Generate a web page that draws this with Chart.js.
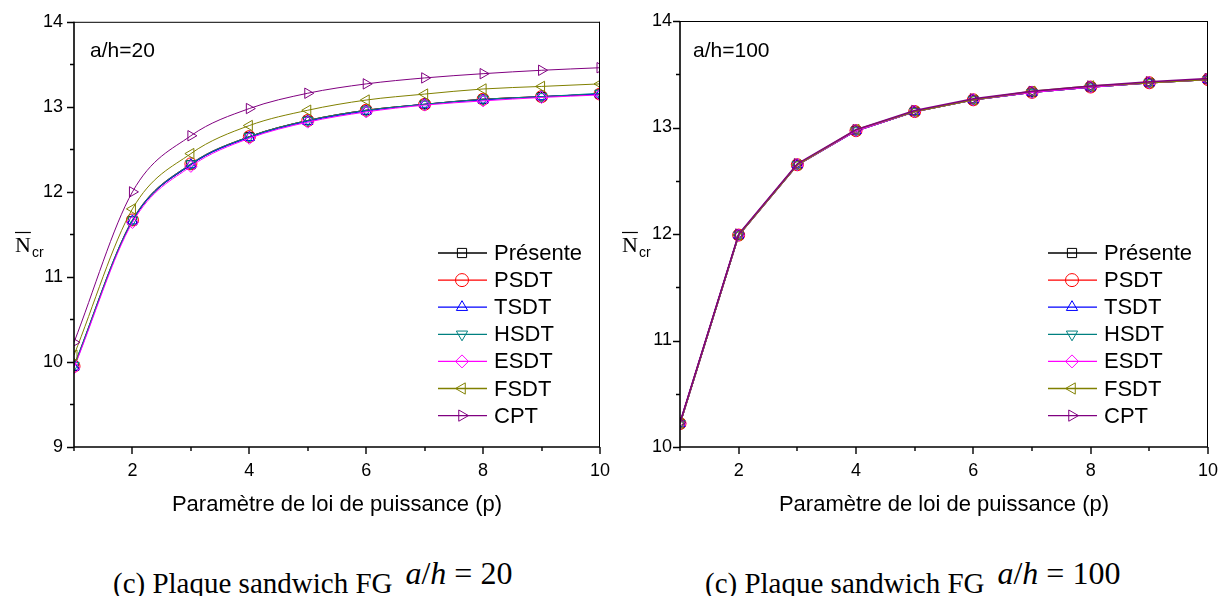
<!DOCTYPE html>
<html>
<head>
<meta charset="utf-8">
<script src="https://cdn.jsdelivr.net/npm/chart.js@4.4.1/dist/chart.umd.min.js"></script>
<style>
  body { margin: 0; background: #fff; width: 1222px; height: 596px; overflow: hidden; position: relative; }
  .panel { position: absolute; top: 0; }
  #leftPanel { left: 0; }
  #rightPanel { left: 610px; }
  .caption { position: absolute; top: 568px; font-family: 'Liberation Serif', 'Times New Roman', serif; font-size: 29px; line-height: 29px; white-space: nowrap; color: #000; }
  .caption .eq { font-size: 32px; position: relative; top: -9px; margin-left: 13px; }
</style>
</head>
<body>
<div class="panel" id="leftPanel"><canvas id="chart20" width="610" height="530"></canvas></div>
<div class="panel" id="rightPanel"><canvas id="chart100" width="612" height="530"></canvas></div>
<div class="caption" style="left:113px;">(c) Plaque sandwich FG<span class="eq"><i>a</i>/<i>h</i> = 20</span></div>
<div class="caption" style="left:705px;">(c) Plaque sandwich FG<span class="eq"><i>a</i>/<i>h</i> = 100</span></div>
<script>
// power-law index p
const pValues = [1, 2, 3, 4, 5, 6, 7, 8, 9, 10];

const seriesNames = ['Présente', 'PSDT', 'TSDT', 'HSDT', 'ESDT', 'FSDT', 'CPT'];

// a/h = 20
const presente20 = [9.95, 11.66, 12.32, 12.65, 12.84, 12.96, 13.03, 13.09, 13.12, 13.15];
const psdt20     = [9.95, 11.67, 12.33, 12.65, 12.84, 12.96, 13.03, 13.09, 13.12, 13.15];
const tsdt20     = [9.94, 11.66, 12.32, 12.64, 12.83, 12.95, 13.03, 13.08, 13.12, 13.15];
const hsdt20     = [9.96, 11.67, 12.33, 12.65, 12.84, 12.96, 13.03, 13.09, 13.12, 13.16];
const esdt20     = [9.93, 11.64, 12.30, 12.63, 12.82, 12.94, 13.02, 13.07, 13.11, 13.14];
const fsdt20     = [10.08, 11.80, 12.45, 12.78, 12.96, 13.08, 13.15, 13.21, 13.24, 13.27];
const cpt20      = [10.23, 12.00, 12.66, 12.98, 13.16, 13.27, 13.34, 13.39, 13.43, 13.46];

// a/h = 100
const presente100 = [10.22, 11.99, 12.65, 12.97, 13.15, 13.26, 13.33, 13.38, 13.42, 13.45];
const psdt100     = [10.22, 11.99, 12.65, 12.97, 13.15, 13.26, 13.33, 13.38, 13.42, 13.45];
const tsdt100     = [10.22, 11.99, 12.65, 12.97, 13.15, 13.26, 13.33, 13.38, 13.42, 13.45];
const hsdt100     = [10.22, 11.99, 12.65, 12.97, 13.15, 13.26, 13.33, 13.38, 13.42, 13.45];
const esdt100     = [10.22, 11.99, 12.65, 12.97, 13.15, 13.26, 13.33, 13.38, 13.42, 13.45];
const fsdt100     = [10.22, 11.99, 12.65, 12.98, 13.15, 13.26, 13.34, 13.39, 13.42, 13.45];
const cpt100      = [10.23, 12.00, 12.66, 12.98, 13.16, 13.27, 13.34, 13.39, 13.43, 13.46];

const xTicksShown = [2, 4, 6, 8, 10];

const colors = ['#000000', '#ff0000', '#0000ff', '#008080', '#ff00ff', '#808000', '#800080'];
const markers = [
  { style: 'rect', rotation: 0 },
  { style: 'circle', rotation: 0 },
  { style: 'triangle', rotation: 0 },
  { style: 'triangle', rotation: 180 },
  { style: 'rectRot', rotation: 0 },
  { style: 'triangle', rotation: 270 },
  { style: 'triangle', rotation: 90 }
];

const sansFont = "'Liberation Sans', Arial, sans-serif";

function buildDatasets(seriesList, smooth, lineWidth) {
  return seriesList.map((vals, i) => ({
    label: seriesNames[i],
    data: pValues.map((p, k) => ({ x: p, y: vals[k] })),
    borderColor: colors[i],
    backgroundColor: 'transparent',
    borderWidth: lineWidth,
    pointStyle: markers[i].style,
    rotation: markers[i].rotation,
    pointRadius: 6,
    pointBorderWidth: 1,
    pointBorderColor: colors[i],
    pointBackgroundColor: 'transparent',
    tension: smooth ? 0.4 : 0,
    cubicInterpolationMode: smooth ? 'monotone' : 'default',
    order: 6 - i
  }));
}

// frame, tick marks, y title, inset label and legend
const decorPlugin = {
  id: 'decor',
  afterDraw(chart, args, opts) {
    const ctx = chart.ctx;
    const a = chart.chartArea;
    const xs = chart.scales.x, ys = chart.scales.y;
    ctx.save();
    ctx.strokeStyle = '#000';
    // top and right border
    ctx.lineWidth = 1;
    ctx.beginPath();
    ctx.moveTo(a.left, a.top + 0.5); ctx.lineTo(a.right, a.top + 0.5);
    ctx.moveTo(a.right - 0.5, a.top); ctx.lineTo(a.right - 0.5, a.bottom);
    ctx.stroke();
    // axes
    ctx.lineWidth = 1.6;
    ctx.beginPath();
    ctx.moveTo(a.left, a.top); ctx.lineTo(a.left, a.bottom);
    ctx.lineTo(a.right, a.bottom);
    ctx.stroke();
    // y ticks every 0.5
    ctx.lineWidth = 1.4;
    ctx.beginPath();
    for (let v = ys.min; v <= ys.max + 1e-9; v += 0.5) {
      const y = Math.round(ys.getPixelForValue(v)) + 0.5;
      const len = Number.isInteger(v) ? 7 : 4;
      ctx.moveTo(a.left, y); ctx.lineTo(a.left - len, y);
    }
    // x ticks every 1
    for (let v = xs.min; v <= xs.max + 1e-9; v += 1) {
      const x = Math.round(xs.getPixelForValue(v));
      const len = v % 2 === 0 ? 7 : 4;
      ctx.moveTo(x, a.bottom); ctx.lineTo(x, a.bottom + len);
    }
    ctx.stroke();

    // y title: N with overline, subscript cr
    const tx = opts.titleX, ty = 252;
    ctx.fillStyle = '#000';
    ctx.font = "22px 'Liberation Serif', 'Times New Roman', serif";
    ctx.textBaseline = 'alphabetic';
    ctx.textAlign = 'left';
    ctx.fillText('N', tx, ty);
    const nw = ctx.measureText('N').width;
    ctx.lineWidth = 1.2;
    ctx.beginPath();
    ctx.moveTo(tx, ty - 19.5); ctx.lineTo(tx + nw, ty - 19.5);
    ctx.stroke();
    ctx.font = '14px ' + sansFont;
    ctx.fillText('cr', tx + nw + 1, ty + 5);

    // inset label
    ctx.font = '21px ' + sansFont;
    ctx.fillText(opts.inset, opts.insetX, 57);

    // legend
    const lx0 = 438, lx1 = 487, lxm = 462, ltx = 494, ly0 = 253, ldy = 27.1;
    ctx.font = '22px ' + sansFont;
    ctx.textBaseline = 'middle';
    chart.data.datasets.forEach((ds, i) => {
      const y = ly0 + i * ldy;
      ctx.strokeStyle = ds.borderColor;
      ctx.lineWidth = 1.3;
      ctx.beginPath();
      ctx.moveTo(lx0, y); ctx.lineTo(lx1, y);
      ctx.stroke();
      ctx.lineWidth = 1;
      ctx.fillStyle = 'rgba(0,0,0,0)';
      Chart.helpers.drawPoint(ctx, {
        pointStyle: ds.pointStyle, rotation: ds.rotation, radius: 6.5, borderWidth: 1
      }, lxm, y);
      ctx.fillStyle = '#000';
      ctx.fillText(ds.label, ltx, y + 1);
    });
    ctx.restore();
  }
};

function makeChart(id, seriesList, cfg) {
  return new Chart(document.getElementById(id).getContext('2d'), {
    type: 'line',
    data: { datasets: buildDatasets(seriesList, cfg.smooth, cfg.lineWidth) },
    plugins: [decorPlugin],
    options: {
      responsive: false,
      animation: false,
      events: [],
      layout: { padding: { top: 21, right: cfg.padRight, left: 0, bottom: 0 } },
      plugins: {
        legend: { display: false },
        tooltip: { enabled: false },
        decor: { titleX: cfg.titleX, inset: cfg.inset, insetX: cfg.insetX }
      },
      scales: {
        x: {
          type: 'linear', min: 1, max: 10,
          grid: { display: false, drawTicks: false },
          border: { display: false },
          ticks: {
            stepSize: 1, padding: 13, color: '#000',
            font: { family: sansFont, size: 18 },
            maxRotation: 0, autoSkip: false,
            callback: v => xTicksShown.includes(v) ? String(v) : ''
          },
          title: {
            display: true, text: 'Paramètre de loi de puissance (p)', color: '#000',
            font: { family: sansFont, size: 22 }, padding: { top: 4, bottom: 12 }
          },
          afterFit(scale) {
            scale.height = 83;
            // let the end label spill into the canvas margin
            scale.paddingLeft = 0;
            scale.paddingRight = 0;
          }
        },
        y: {
          min: cfg.yMin, max: 14,
          grid: { display: false, drawTicks: false },
          border: { display: false },
          ticks: {
            stepSize: 1, padding: cfg.yPad, color: '#000',
            font: { family: sansFont, size: 18 }
          },
          afterFit(scale) { scale.width = cfg.axisLeft; }
        }
      }
    }
  });
}

makeChart('chart20',
  [presente20, psdt20, tsdt20, hsdt20, esdt20, fsdt20, cpt20],
  { smooth: true, lineWidth: 1, yMin: 9, padRight: 10, axisLeft: 74, yPad: 11, titleX: 15, inset: 'a/h=20', insetX: 90 });

makeChart('chart100',
  [presente100, psdt100, tsdt100, hsdt100, esdt100, fsdt100, cpt100],
  { smooth: false, lineWidth: 1.5, yMin: 10, padRight: 14, axisLeft: 70, yPad: 8, titleX: 12, inset: 'a/h=100', insetX: 83 });
</script>
</body>
</html>
